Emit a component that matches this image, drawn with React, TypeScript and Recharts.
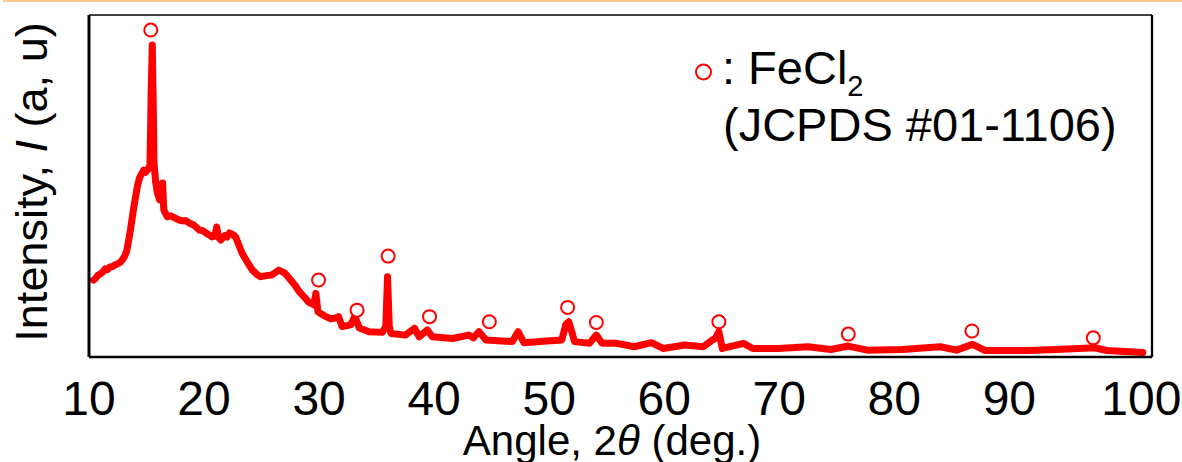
import {
  ComposedChart,
  Line,
  XAxis,
  YAxis,
  ReferenceDot,
  ReferenceLine,
} from 'recharts'

// XRD pattern (2θ in degrees, intensity in arbitrary units 0-100)
const angles = [
  10.4, 10.6, 10.8, 11.0, 11.2, 11.4, 11.6, 11.8, 12.0, 12.25, 12.5, 12.7, 12.9, 13.1, 13.3, 13.6,
  13.9, 14.2, 14.4, 14.6, 14.75, 14.9, 15.1, 15.3, 15.42, 15.5, 15.58, 15.65, 15.8, 15.94, 16.15,
  16.3, 16.4, 16.5, 16.8, 17.1, 17.5, 17.8, 18.1, 18.4, 18.7, 19.1, 19.6, 19.9, 20.2, 20.5, 20.7,
  20.95, 21.1, 21.25, 21.45, 21.8, 22.0, 22.2, 22.5, 22.75, 23.3, 23.8, 24.2, 24.6, 24.9, 25.4,
  25.9, 26.5, 27.0, 27.4, 27.9, 28.3, 28.7, 29.1, 29.55, 29.72, 29.9, 30.6, 31.0, 31.45, 31.7,
  32.0, 32.75, 33.1, 33.5, 34.35, 35.5, 35.8, 35.95, 36.1, 36.25, 37.5, 38.3, 38.7, 39.4, 39.85,
  41.6, 43.0, 43.4, 43.9, 44.5, 46.8, 47.3, 47.8, 49.5, 51.1, 51.45, 51.7, 52.0, 52.2, 53.5, 54.1,
  54.6, 55.9, 57.4, 58.9, 59.9, 61.8, 63.4, 64.2, 64.45, 64.75, 65.05, 66.9, 67.7, 69.9, 72.5,
  74.5, 76.0, 77.65, 80.7, 84.0, 85.4, 86.8, 87.9, 91.6, 94.1, 97.4, 98.5, 101.6,
]
const intensities = [
  22.5, 23.1, 24.0, 24.3, 24.9, 25.8, 25.5, 26.3, 26.4, 26.9, 27.3, 27.6, 28.4, 29.5, 31.3, 37.1,
  43.9, 49.8, 52.5, 53.7, 54.6, 54.0, 54.7, 56.1, 80, 91.2, 75, 56.7, 51, 48, 45.9,
  47, 50.9, 43, 41, 41.3, 40.6, 40.1, 39.8, 39.9, 39.2, 38.6, 37.1, 36.9, 36.2, 35.6, 35.1,
  35.5, 38, 35, 34.2, 35.5, 35.1, 36.3, 35.8, 35.1, 30.4, 27.5, 25.4, 24.1, 23.5, 23.8,
  24.0, 25.4, 24.6, 23.0, 21.0, 19.0, 17.6, 16.0, 15.2, 18.6, 13.2, 11.8, 11.2, 11.4, 11.8,
  8.9, 9.4, 11.8, 8.5, 7.4, 7.2, 9, 23.5, 9, 6.9, 6.4, 8.4, 5.9, 7.9, 5.9,
  5.4, 6.4, 5.6, 7.4, 5.0, 4.5, 7.4, 4.2, 4.6, 5.0, 9.5, 10.3, 7, 4.5, 4.0, 6.4,
  4.0, 4.0, 3.0, 4.2, 2.5, 3.5, 3.0, 5.0, 5.5, 7.4, 2.5, 4.0, 2.5, 2.5, 3.0,
  2.2, 3.2, 2.0, 2.2, 3.0, 2.0, 3.7, 1.9, 1.9, 2.2, 2.7, 1.9, 1.3,
]

// FeCl2 peak markers (circles above peaks)
const markerAngles = [15.37, 29.95, 33.3, 36.0, 39.6, 44.8, 51.6, 54.1, 64.75, 76.0, 86.75, 97.3]
const markerHeights = [95.6, 22.5, 13.7, 29.5, 11.8, 10.3, 14.5, 10.1, 10.3, 6.7, 7.6, 5.6]

const xTicks = [10, 20, 30, 40, 50, 60, 70, 80, 90, 100]

const data = angles.map((a, i) => ({ angle: a, intensity: intensities[i] }))

const FONT = '"Liberation Sans", Arial, sans-serif'
const RED = '#ff0000'

function AngleTick(props: any) {
  const { x, y, payload } = props
  const shift = payload.value === 100 ? 17 : 0
  return (
    <text x={x + shift} y={y} dy={58} textAnchor="middle" fontSize={48} fontFamily={FONT} fill="#000">
      {payload.value}
    </text>
  )
}

export default function App() {
  return (
    <div style={{ position: 'absolute', left: 0, top: 0, width: 1182, height: 462, background: '#fff' }}>
      <div style={{ position: 'absolute', left: 3, top: 0, width: 1179, height: 1.5, background: '#fac992' }} />
      <ComposedChart
        width={1182}
        height={462}
        data={data}
        margin={{ top: 15, right: 30, left: 0, bottom: 0 }}
      >
        <XAxis
          dataKey="angle"
          type="number"
          domain={[10, 102.4]}
          ticks={xTicks}
          allowDataOverflow
          height={105}
          tickSize={0}
          tickMargin={0}
          tickLine={false}
          tick={<AngleTick />}
          axisLine={{ stroke: '#000', strokeWidth: 2.3 }}
        />
        <YAxis
          dataKey="intensity"
          type="number"
          domain={[0, 100]}
          width={89}
          tick={false}
          tickLine={false}
          axisLine={{ stroke: '#000', strokeWidth: 3 }}
        />
        <ReferenceLine y={100} stroke="#000" strokeWidth={1.5} />
        <ReferenceLine x={102.4} stroke="#000" strokeWidth={2.3} />
        <Line
          dataKey="intensity"
          type="linear"
          stroke={RED}
          strokeWidth={7}
          strokeLinejoin="round"
          strokeLinecap="round"
          dot={false}
          isAnimationActive={false}
        />
        {markerAngles.map((a, i) => (
          <ReferenceDot
            key={i}
            x={a}
            y={markerHeights[i]}
            r={6.5}
            fill="#fff"
            stroke={RED}
            strokeWidth={2}
            ifOverflow="visible"
          />
        ))}
      </ComposedChart>
      <svg
        width={1182}
        height={462}
        style={{ position: 'absolute', left: 0, top: 0, pointerEvents: 'none' }}
        fontFamily={FONT}
      >
        <text x={47} y={182} transform="rotate(-90 47 182)" textAnchor="middle" fontSize={45} fill="#000">
          Intensity, <tspan fontStyle="italic">I</tspan> (a, u)
        </text>
        <text x={612} y={455} textAnchor="middle" fontSize={42} fill="#000">
          Angle, 2<tspan fontStyle="italic">θ</tspan> (deg.)
        </text>
        <circle cx={703.5} cy={72} r={7.5} fill="#fff" stroke={RED} strokeWidth={2} />
        <text x={722} y={84} fontSize={47} fill="#000">
          : FeCl<tspan fontSize={29} dy={12}>2</tspan>
        </text>
        <text x={723} y={141} fontSize={47} fill="#000">
          (JCPDS #01-1106)
        </text>
      </svg>
    </div>
  )
}
